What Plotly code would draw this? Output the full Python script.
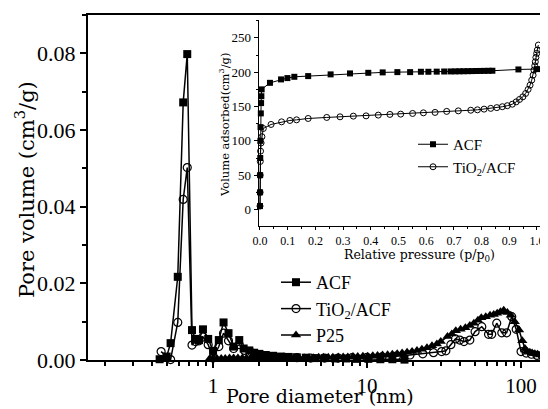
import plotly.graph_objects as go

# ---------------- main plot data: pore size distribution ----------------
acf_d = [0.45, 0.50, 0.53, 0.59, 0.64, 0.68, 0.73, 0.77, 0.81, 0.86, 0.93, 1.0, 1.09, 1.17, 1.26,
         1.36, 1.48, 1.58, 1.72, 1.85, 2.0, 2.2, 2.45, 2.75, 3.1, 3.5, 4.0, 4.6, 5.3, 6.2,
         7.3, 8.6, 10.2, 12.2, 14.6, 17.5]
acf_v = [0.0002, 0.0009, 0.0044, 0.0217, 0.0672, 0.0798, 0.0078, 0.0055, 0.0052, 0.0080, 0.0055, 0.0024,
         0.0052, 0.0098, 0.0070, 0.0035, 0.0052, 0.0030, 0.0025, 0.0019, 0.0016, 0.0013, 0.0011, 0.0009,
         0.0008, 0.0007, 0.0006, 0.0005, 0.0005, 0.0004, 0.0004, 0.0003, 0.0003, 0.0002, 0.0002, 0.0001]

tio2_d = [0.46, 0.53, 0.59, 0.64, 0.68, 0.73, 0.77, 0.81, 0.86, 0.93, 1.0, 1.09, 1.17, 1.26, 1.36,
          1.48, 1.6, 1.8, 2.0, 2.4, 2.9, 3.5, 4.3, 5.3, 6.5, 8.0, 10, 12.5, 15.5, 19, 23, 27, 30.5,
          32.5, 35, 37.5, 40, 42.6, 46.5, 50.3, 55.6, 61.5, 64.5, 69.5, 75, 80.6, 87, 93, 100,
          108, 117, 127, 138, 150]
tio2_v = [0.0022, 0.0001, 0.0098, 0.0419, 0.0502, 0.0039, 0.0048, 0.0050, 0.0060, 0.0040, 0.0005,
          0.0035, 0.0070, 0.0050, 0.0030, 0.0040, 0.0025, 0.0018, 0.0012, 0.0009, 0.0007, 0.0006,
          0.0005, 0.0005, 0.0005, 0.0006, 0.0007, 0.0008, 0.0010, 0.0013, 0.0016, 0.0019, 0.0022,
          0.0024, 0.0040, 0.0055, 0.0052, 0.0048, 0.0052, 0.0074, 0.0087, 0.0067, 0.0067, 0.0096,
          0.0071, 0.0071, 0.0113, 0.0080, 0.0022, 0.0018, 0.0015, 0.0012, 0.0010, 0.0008]

p25_d = [0.95, 1.0, 1.06, 1.13, 1.2, 1.28, 1.36, 1.45, 1.55, 1.65,
         1.76, 1.88, 2.0, 2.15, 2.3, 2.5, 2.7, 2.9, 3.1, 3.35,
         3.6, 3.9, 4.2, 4.5, 4.85, 5.2, 5.6, 6.0, 6.5, 7.0,
         7.5, 8.1, 8.7, 9.4, 10.1, 10.9, 11.7, 12.6, 13.6, 14.6,
         15.7, 16.9, 18.2, 19.6, 21.1, 22.7, 24.5, 26.4, 28.4, 30.1,
         33.3, 35.5, 37.7, 40.5, 43.5, 46.5, 49.4, 52.5, 55.2, 59.0,
         62.9, 66.5, 70.0, 73.5, 77.2, 81.5, 85.8, 91.0, 97.1, 101.9,
         106, 109.8, 114, 118, 123, 128, 133, 139, 145, 151]
p25_v = [0.0003, 0.0004, 0.0004, 0.0004, 0.0004, 0.0005, 0.0005, 0.0005, 0.0005, 0.0005,
         0.0005, 0.0005, 0.0005, 0.0005, 0.0005, 0.0005, 0.0005, 0.0005, 0.0005, 0.0006,
         0.0006, 0.0006, 0.0006, 0.0006, 0.0007, 0.0007, 0.0007, 0.0007, 0.0008, 0.0008,
         0.0008, 0.0009, 0.0009, 0.0010, 0.0010, 0.0011, 0.0012, 0.0013, 0.0014, 0.0015,
         0.0016, 0.0018, 0.0020, 0.0022, 0.0025, 0.0028, 0.0032, 0.0037, 0.0042, 0.0048,
         0.0061, 0.0068, 0.0076, 0.0080, 0.0084, 0.0090, 0.0096, 0.0104, 0.0110, 0.0113,
         0.0117, 0.0119, 0.0122, 0.0126, 0.0130, 0.0124, 0.0117, 0.0100, 0.0078, 0.0050,
         0.0030, 0.0022, 0.0020, 0.0018, 0.0016, 0.0015, 0.0013, 0.0012, 0.0011, 0.0010]

# ---------------- inset data: N2 adsorption isotherms ----------------
iso_acf_p = [0.0001, 0.0003, 0.0006, 0.001, 0.0015, 0.002, 0.003, 0.004, 0.005, 0.006, 0.036, 0.076,
             0.099, 0.124, 0.174, 0.255, 0.325, 0.391, 0.443, 0.496, 0.542, 0.581, 0.608, 0.638,
             0.665, 0.688, 0.705, 0.72, 0.735, 0.75, 0.765, 0.78, 0.795, 0.81, 0.825, 0.839,
             0.933, 1.0]
iso_acf_v = [5, 25, 50, 75, 100, 120, 140, 155, 165, 175, 184.5, 189.5, 191.4, 193.3, 194.3, 196.8,
             198.2, 199.1, 199.7, 200.1, 200.1, 200.6, 200.6, 200.8, 201.0, 201.1, 201.2, 201.3,
             201.4, 201.5, 201.6, 201.7, 201.8, 201.9, 202.0, 202.1, 204.0, 204.5]

iso_tio2_p = [0.0001, 0.0003, 0.0006, 0.001, 0.002, 0.004, 0.007, 0.012, 0.04, 0.078, 0.108, 0.132,
              0.174, 0.241, 0.289, 0.337, 0.383, 0.427, 0.469, 0.508, 0.551, 0.590, 0.632, 0.674,
              0.716, 0.761, 0.785, 0.809, 0.833, 0.855, 0.875, 0.893, 0.911, 0.925, 0.937, 0.949,
              0.959, 0.968, 0.975, 0.981, 0.986, 0.989, 0.992, 0.994, 0.996, 0.999, 1.001, 1.005]
iso_tio2_v = [5, 25, 50, 70, 85, 97, 106, 118, 123.9, 127.7, 129.7, 130.6, 132.6, 134.1, 135, 136,
              136.4, 137.5, 138.5, 138.9, 139.9, 140.8, 141.4, 142.9, 143.7, 144.6, 145.2, 146.2,
              147.3, 148.4, 149.7, 151.2, 153.4, 156.8, 160.3, 164.1, 169.0, 174.9, 181.1, 188.4,
              195.7, 203.0, 209.3, 215.1, 221.5, 227.4, 232.2, 239.5]

main_xticks = [1, 10, 100]
main_xminor = [0.2, 0.3, 0.4, 0.5, 0.6, 0.7, 0.8, 0.9, 2, 3, 4, 5, 6, 7, 8, 9,
               20, 30, 40, 50, 60, 70, 80, 90]

FONT = "Liberation Serif"
WFONT = "DejaVu Serif"

# layout geometry: the page body has an 8 px margin, so the figure is drawn
# 8 px smaller and all targets are given in page pixels
OFF = 8
W, H = 548 - OFF, 409 - OFF
ML, MR, MT, MB = 88 - OFF, 0, 15 - OFF, 49
PW, PH = W - ML - MR, H - MT - MB


def px_x(x):
    return (x - OFF - ML) / PW


def px_y(y):
    return (H - MB - (y - OFF)) / PH


fig = go.Figure()

fig.add_trace(go.Scatter(x=acf_d, y=acf_v, name="ACF", mode="lines+markers",
                         line=dict(color="black", width=1.5),
                         marker=dict(symbol="square", size=8, color="black"),
                         cliponaxis=False))
fig.add_trace(go.Scatter(x=tio2_d, y=tio2_v, name="TiO<sub>2</sub>/ACF", mode="lines+markers",
                         line=dict(color="black", width=1.5),
                         marker=dict(symbol="circle-open", size=8, color="black", line=dict(width=1.2)),
                         cliponaxis=False))
fig.add_trace(go.Scatter(x=p25_d, y=p25_v, name="P25", mode="lines+markers",
                         line=dict(color="black", width=1.5),
                         marker=dict(symbol="triangle-up", size=9, color="black"),
                         cliponaxis=False))

fig.add_trace(go.Scatter(x=iso_acf_p, y=iso_acf_v, name="ACF", mode="lines+markers",
                         xaxis="x2", yaxis="y2", legend="legend2",
                         line=dict(color="black", width=1),
                         marker=dict(symbol="square", size=6, color="black"),
                         cliponaxis=False))
fig.add_trace(go.Scatter(x=iso_tio2_p, y=iso_tio2_v, name="TiO<sub>2</sub>/ACF", mode="lines+markers",
                         xaxis="x2", yaxis="y2", legend="legend2",
                         line=dict(color="black", width=1),
                         marker=dict(symbol="circle-open", size=6, color="black", line=dict(width=1)),
                         cliponaxis=False))

fig.update_layout(
    width=W, height=H,
    margin=dict(l=ML, r=MR, t=MT, b=MB, autoexpand=False),
    paper_bgcolor="white", plot_bgcolor="white",
    font=dict(family=FONT, color="black"),
    xaxis=dict(type="log", range=[-0.812, 2.175], showline=True, linecolor="black", linewidth=2,
               mirror=True, showgrid=False, zeroline=False, automargin=False,
               ticks="outside", ticklen=6, tickwidth=1.5, tickcolor="black",
               tickvals=main_xticks, ticktext=[str(v) for v in main_xticks],
               tickfont=dict(size=21, family=FONT),
               minor=dict(ticks="outside", ticklen=4, tickwidth=1.5, tickcolor="black",
                          tickvals=main_xminor, showgrid=False)),
    yaxis=dict(range=[0, 0.09], showline=True, linecolor="black", linewidth=2,
               showgrid=False, zeroline=False, automargin=False,
               ticks="outside", ticklen=6, tickwidth=1.5, tickcolor="black",
               dtick=0.02, tick0=0, tickformat=".2f",
               tickfont=dict(size=22, family=FONT),
               minor=dict(ticks="outside", ticklen=4, tickwidth=1.5, tickcolor="black",
                          dtick=0.01, showgrid=False)),
    xaxis2=dict(domain=[px_x(258.6), px_x(540.3)], anchor="y2", range=[-0.005, 1.012],
                showline=True, linecolor="black", linewidth=1.2, showgrid=False, zeroline=False,
                automargin=False,
                ticks="outside", ticklen=3, tickwidth=1, tickcolor="black",
                dtick=0.1, tick0=0, tickformat=".1f",
                tickfont=dict(size=12, family=FONT),
                minor=dict(ticks="outside", ticklen=2, tickwidth=1, tickcolor="black",
                           dtick=0.05, showgrid=False)),
    yaxis2=dict(domain=[px_y(226), px_y(20)], anchor="x2", range=[-24, 276],
                showline=True, linecolor="black", linewidth=1.2, showgrid=False, zeroline=False,
                automargin=False,
                ticks="outside", ticklen=4, tickwidth=1, tickcolor="black",
                dtick=50, tick0=0,
                tickfont=dict(size=13, family=FONT),
                minor=dict(ticks="outside", ticklen=2, tickwidth=1, tickcolor="black",
                           dtick=25, showgrid=False)),
    legend=dict(x=px_x(276), y=px_y(264), xanchor="left", yanchor="top", bgcolor="rgba(0,0,0,0)",
                font=dict(size=18, family=FONT), tracegroupgap=0),
    legend2=dict(x=px_x(413), y=px_y(128), xanchor="left", yanchor="top", bgcolor="rgba(0,0,0,0)",
                 font=dict(size=15, family=FONT)),
    showlegend=True,
)

# axis titles
fig.add_annotation(text="Pore diameter (nm)", xref="paper", yref="paper",
                   x=px_x(320), y=px_y(409), xanchor="center", yanchor="bottom",
                   showarrow=False, font=dict(size=19, family=WFONT))
fig.add_annotation(text="Pore volume (cm<sup>3</sup>/g)", xref="paper", yref="paper",
                   x=px_x(25), y=px_y(190), xanchor="center", yanchor="middle", textangle=-90,
                   showarrow=False, font=dict(size=21, family=WFONT))
fig.add_annotation(text="Relative pressure (p/p<sub>0</sub>)", xref="paper", yref="paper",
                   x=px_x(419), y=px_y(255), xanchor="center", yanchor="middle",
                   showarrow=False, font=dict(size=12.5, family=WFONT))
fig.add_annotation(text="Volume adsorbed(cm<sup>3</sup>/g)", xref="paper", yref="paper",
                   x=px_x(225), y=px_y(125), xanchor="center", yanchor="middle", textangle=-90,
                   showarrow=False, font=dict(size=11.5, family=WFONT))

fig.write_html("out.html")
